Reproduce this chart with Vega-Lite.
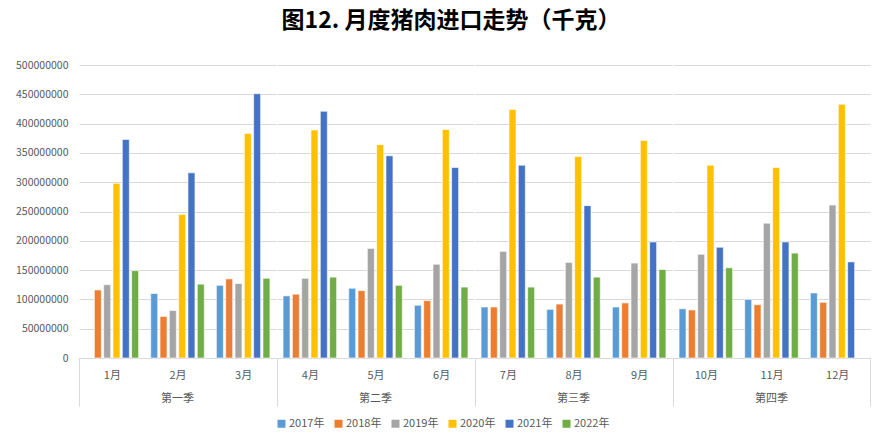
{
  "$schema": "https://vega.github.io/schema/vega-lite/v6.json",
  "padding": {"left": 15, "top": 10, "right": 14, "bottom": 5},
  "background": "white",
  "title": {"text": "图12. 月度猪肉进口走势（千克）", "fontSize": 23, "font": "Noto Sans CJK SC", "fontWeight": "bold", "color": "#000000", "anchor": "middle", "frame": "bounds", "offset": 27, "dx": 8},
  "data": {"values": [
    {"month": "1月", "quarter": "第一季", "year": "2018年", "value": 116000000},
    {"month": "1月", "quarter": "第一季", "year": "2019年", "value": 125000000},
    {"month": "1月", "quarter": "第一季", "year": "2020年", "value": 298000000},
    {"month": "1月", "quarter": "第一季", "year": "2021年", "value": 373000000},
    {"month": "1月", "quarter": "第一季", "year": "2022年", "value": 149000000},
    {"month": "2月", "quarter": "第一季", "year": "2017年", "value": 110000000},
    {"month": "2月", "quarter": "第一季", "year": "2018年", "value": 71000000},
    {"month": "2月", "quarter": "第一季", "year": "2019年", "value": 81000000},
    {"month": "2月", "quarter": "第一季", "year": "2020年", "value": 245000000},
    {"month": "2月", "quarter": "第一季", "year": "2021年", "value": 316000000},
    {"month": "2月", "quarter": "第一季", "year": "2022年", "value": 126000000},
    {"month": "3月", "quarter": "第一季", "year": "2017年", "value": 124000000},
    {"month": "3月", "quarter": "第一季", "year": "2018年", "value": 135000000},
    {"month": "3月", "quarter": "第一季", "year": "2019年", "value": 127000000},
    {"month": "3月", "quarter": "第一季", "year": "2020年", "value": 383000000},
    {"month": "3月", "quarter": "第一季", "year": "2021年", "value": 451000000},
    {"month": "3月", "quarter": "第一季", "year": "2022年", "value": 136000000},
    {"month": "4月", "quarter": "第二季", "year": "2017年", "value": 106000000},
    {"month": "4月", "quarter": "第二季", "year": "2018年", "value": 109000000},
    {"month": "4月", "quarter": "第二季", "year": "2019年", "value": 136000000},
    {"month": "4月", "quarter": "第二季", "year": "2020年", "value": 389000000},
    {"month": "4月", "quarter": "第二季", "year": "2021年", "value": 421000000},
    {"month": "4月", "quarter": "第二季", "year": "2022年", "value": 138000000},
    {"month": "5月", "quarter": "第二季", "year": "2017年", "value": 119000000},
    {"month": "5月", "quarter": "第二季", "year": "2018年", "value": 115000000},
    {"month": "5月", "quarter": "第二季", "year": "2019年", "value": 187000000},
    {"month": "5月", "quarter": "第二季", "year": "2020年", "value": 364000000},
    {"month": "5月", "quarter": "第二季", "year": "2021年", "value": 345000000},
    {"month": "5月", "quarter": "第二季", "year": "2022年", "value": 124000000},
    {"month": "6月", "quarter": "第二季", "year": "2017年", "value": 90000000},
    {"month": "6月", "quarter": "第二季", "year": "2018年", "value": 98000000},
    {"month": "6月", "quarter": "第二季", "year": "2019年", "value": 160000000},
    {"month": "6月", "quarter": "第二季", "year": "2020年", "value": 390000000},
    {"month": "6月", "quarter": "第二季", "year": "2021年", "value": 325000000},
    {"month": "6月", "quarter": "第二季", "year": "2022年", "value": 121000000},
    {"month": "7月", "quarter": "第三季", "year": "2017年", "value": 87000000},
    {"month": "7月", "quarter": "第三季", "year": "2018年", "value": 87000000},
    {"month": "7月", "quarter": "第三季", "year": "2019年", "value": 182000000},
    {"month": "7月", "quarter": "第三季", "year": "2020年", "value": 424000000},
    {"month": "7月", "quarter": "第三季", "year": "2021年", "value": 329000000},
    {"month": "7月", "quarter": "第三季", "year": "2022年", "value": 121000000},
    {"month": "8月", "quarter": "第三季", "year": "2017年", "value": 83000000},
    {"month": "8月", "quarter": "第三季", "year": "2018年", "value": 92000000},
    {"month": "8月", "quarter": "第三季", "year": "2019年", "value": 163000000},
    {"month": "8月", "quarter": "第三季", "year": "2020年", "value": 344000000},
    {"month": "8月", "quarter": "第三季", "year": "2021年", "value": 260000000},
    {"month": "8月", "quarter": "第三季", "year": "2022年", "value": 138000000},
    {"month": "9月", "quarter": "第三季", "year": "2017年", "value": 87000000},
    {"month": "9月", "quarter": "第三季", "year": "2018年", "value": 94000000},
    {"month": "9月", "quarter": "第三季", "year": "2019年", "value": 162000000},
    {"month": "9月", "quarter": "第三季", "year": "2020年", "value": 371000000},
    {"month": "9月", "quarter": "第三季", "year": "2021年", "value": 198000000},
    {"month": "9月", "quarter": "第三季", "year": "2022年", "value": 151000000},
    {"month": "10月", "quarter": "第四季", "year": "2017年", "value": 84000000},
    {"month": "10月", "quarter": "第四季", "year": "2018年", "value": 82000000},
    {"month": "10月", "quarter": "第四季", "year": "2019年", "value": 177000000},
    {"month": "10月", "quarter": "第四季", "year": "2020年", "value": 329000000},
    {"month": "10月", "quarter": "第四季", "year": "2021年", "value": 189000000},
    {"month": "10月", "quarter": "第四季", "year": "2022年", "value": 154000000},
    {"month": "11月", "quarter": "第四季", "year": "2017年", "value": 100000000},
    {"month": "11月", "quarter": "第四季", "year": "2018年", "value": 91000000},
    {"month": "11月", "quarter": "第四季", "year": "2019年", "value": 230000000},
    {"month": "11月", "quarter": "第四季", "year": "2020年", "value": 325000000},
    {"month": "11月", "quarter": "第四季", "year": "2021年", "value": 198000000},
    {"month": "11月", "quarter": "第四季", "year": "2022年", "value": 179000000},
    {"month": "12月", "quarter": "第四季", "year": "2017年", "value": 111000000},
    {"month": "12月", "quarter": "第四季", "year": "2018年", "value": 95000000},
    {"month": "12月", "quarter": "第四季", "year": "2019年", "value": 261000000},
    {"month": "12月", "quarter": "第四季", "year": "2020年", "value": 433000000},
    {"month": "12月", "quarter": "第四季", "year": "2021年", "value": 164000000}
  ]},
  "facet": {
    "column": {
      "field": "quarter", "type": "nominal",
      "sort": ["第一季", "第二季", "第三季", "第四季"],
      "header": {"labelOrient": "bottom", "title": null, "labelFontSize": 11, "labelColor": "#595959", "labelFont": "Noto Sans CJK SC", "labelPadding": -14}
    }
  },
  "spacing": 0,
  "resolve": {"scale": {"x": "independent", "xOffset": "independent"}},
  "spec": {
    "width": 197,
    "height": 293,
    "mark": {"type": "bar", "stroke": "white", "strokeWidth": 0.6},
    "encoding": {
      "x": {
        "field": "month", "type": "nominal",
        "sort": ["1月", "2月", "3月", "4月", "5月", "6月", "7月", "8月", "9月", "10月", "11月", "12月"],
        "scale": {"paddingInner": 0, "paddingOuter": 0},
        "axis": {
          "title": null, "labelAngle": 0, "labelFontSize": 11, "labelColor": "#595959", "labelFont": "Noto Sans CJK SC",
          "domainColor": "#D9D9D9", "domainWidth": 1,
          "tickBand": "extent", "tickSize": 48, "tickWidth": 1,
          "tickColor": "#D9D9D9",
          "tickOpacity": {"condition": {"test": "datum.extra || datum.value == '12月'", "value": 1}, "value": 0},
          "labelPadding": -37
        }
      },
      "xOffset": {
        "field": "year", "type": "nominal",
        "scale": {"domain": ["2017年", "2018年", "2019年", "2020年", "2021年", "2022年"], "paddingInner": 0.25, "paddingOuter": 0.65}
      },
      "y": {
        "field": "value", "type": "quantitative",
        "scale": {"domain": [0, 500000000]},
        "axis": {
          "title": null, "values": [0, 50000000, 100000000, 150000000, 200000000, 250000000, 300000000, 350000000, 400000000, 450000000, 500000000],
          "format": "d", "domain": false, "ticks": false, "labelPadding": 10,
          "labelFontSize": 10.5, "labelColor": "#595959", "labelFont": "Noto Sans CJK SC",
          "gridColor": "#D9D9D9", "gridWidth": 1
        }
      },
      "color": {
        "field": "year", "type": "nominal",
        "scale": {"domain": ["2017年", "2018年", "2019年", "2020年", "2021年", "2022年"], "range": ["#5B9BD5", "#ED7D31", "#A5A5A5", "#FFC000", "#4472C4", "#70AD47"]},
        "legend": {"title": null, "orient": "bottom", "direction": "horizontal", "symbolType": "square", "symbolSize": 64, "symbolStrokeWidth": 0, "labelFontSize": 11, "labelColor": "#595959", "labelFont": "Noto Sans CJK SC", "columnPadding": 8, "symbolOffset": 0, "labelOffset": 2, "offset": 11}
      }
    }
  },
  "config": {"view": {"stroke": null}, "legend": {"layout": {"bottom": {"anchor": "middle"}}}}
}
